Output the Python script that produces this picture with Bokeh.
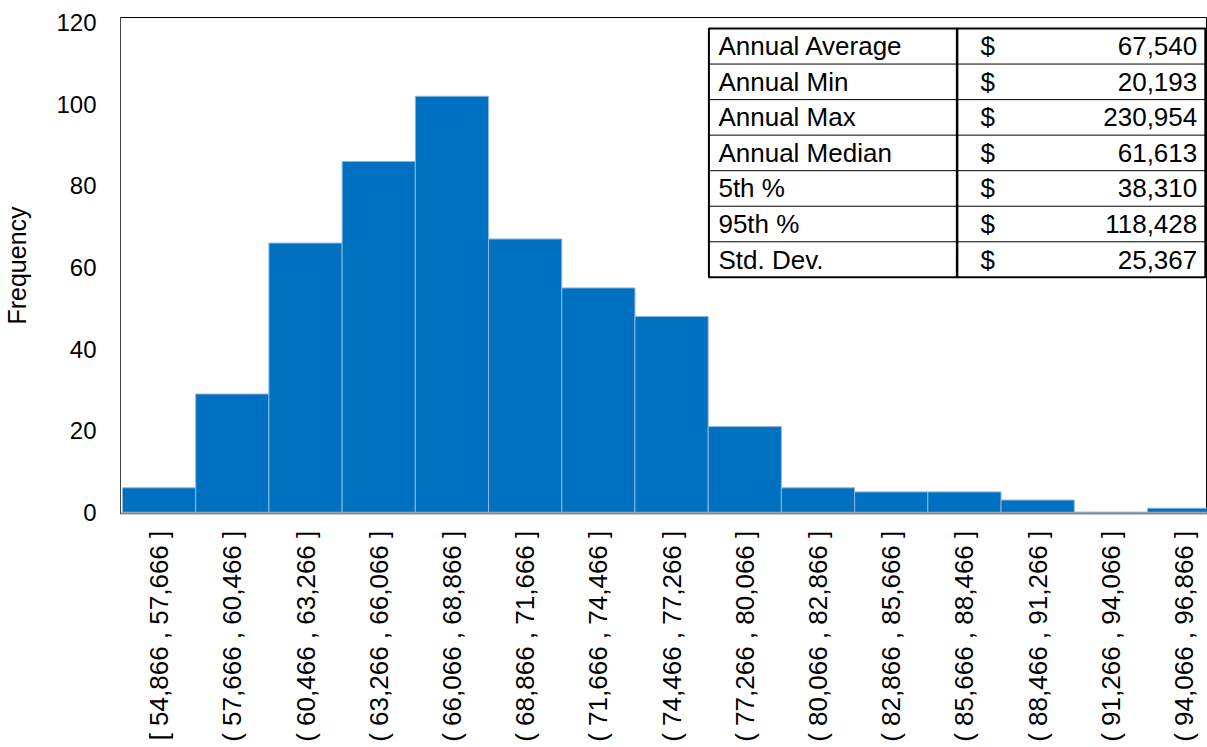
import math
from bokeh.plotting import figure
from bokeh.models import Range1d, FixedTicker, ColumnDataSource
from bokeh.core.properties import value
from bokeh.embed import file_html
from bokeh.resources import INLINE

# ---- data ----
bin_labels = [
    "[ 54,866 ,  57,666 ]", "( 57,666 ,  60,466 ]", "( 60,466 ,  63,266 ]",
    "( 63,266 ,  66,066 ]", "( 66,066 ,  68,866 ]", "( 68,866 ,  71,666 ]",
    "( 71,666 ,  74,466 ]", "( 74,466 ,  77,266 ]", "( 77,266 ,  80,066 ]",
    "( 80,066 ,  82,866 ]", "( 82,866 ,  85,666 ]", "( 85,666 ,  88,466 ]",
    "( 88,466 ,  91,266 ]", "( 91,266 ,  94,066 ]", "( 94,066 ,  96,866 ]",
]
frequencies = [6, 29, 66, 86, 102, 67, 55, 48, 21, 6, 5, 5, 3, 0, 1]

stat_names = ["Annual Average", "Annual Min", "Annual Max", "Annual Median",
              "5th %", "95th %", "Std. Dev."]
stat_currency = ["$"] * 7
stat_values = ["67,540", "20,193", "230,954", "61,613", "38,310", "118,428", "25,367"]

FONT = "Liberation Sans"

n = len(frequencies)
centers = [i + 0.5 for i in range(n)]

p = figure(width=1207, height=747, output_backend="svg", toolbar_location=None,
           x_range=Range1d(-0.027, 14.82), y_range=Range1d(-0.3, 121.3),
           min_border_left=119, min_border_right=0, min_border_top=17,
           min_border_bottom=234)

p.vbar(x=centers, top=frequencies, width=1.0, bottom=0,
       fill_color="#0070C0", line_color="#8DB8E2", line_width=1)

# ---- axes ----
p.xgrid.visible = False
p.ygrid.visible = False
p.outline_line_color = "black"
p.outline_line_width = 1

p.xaxis.ticker = FixedTicker(ticks=centers)
p.xaxis.major_label_overrides = {c: lab for c, lab in zip(centers, bin_labels)}
p.xaxis.major_label_orientation = math.pi / 2
p.xaxis.major_label_text_font = FONT
p.xaxis.major_label_text_font_size = "26px"
p.xaxis.major_label_text_color = "black"
p.xaxis.major_tick_line_color = None
p.xaxis.minor_tick_line_color = None
p.xaxis.major_label_standoff = 4
p.xaxis.axis_line_color = "#8a8a8a"
p.xaxis.axis_line_width = 2

p.yaxis.ticker = FixedTicker(ticks=[0, 20, 40, 60, 80, 100, 120])
p.yaxis.major_label_text_font = FONT
p.yaxis.major_label_text_font_size = "24px"
p.yaxis.major_label_text_color = "black"
p.yaxis.major_tick_line_color = None
p.yaxis.minor_tick_line_color = None
p.yaxis.major_label_standoff = 18
p.yaxis.axis_line_color = "#444444"
p.yaxis.axis_label = "Frequency"
p.yaxis.axis_label_text_font = FONT
p.yaxis.axis_label_text_font_size = "25px"
p.yaxis.axis_label_text_font_style = "normal"
p.yaxis.axis_label_text_color = "black"
p.yaxis.axis_label_standoff = 22

# ---- statistics table (data-space layout) ----
t_left, t_sep, t_right = 8.01, 11.40, 14.79
t_top, t_bottom = 118.6, 57.6
rows = len(stat_names)
rh = (t_top - t_bottom) / rows

p.quad(left=[t_left], right=[t_right], top=[t_top], bottom=[t_bottom],
       fill_color="white", line_color="black", line_width=2)
p.segment(x0=[t_left] * (rows - 1), x1=[t_right] * (rows - 1),
          y0=[t_top - rh * (i + 1) for i in range(rows - 1)],
          y1=[t_top - rh * (i + 1) for i in range(rows - 1)],
          line_color="black", line_width=1)
p.segment(x0=[t_sep], x1=[t_sep], y0=[t_top], y1=[t_bottom],
          line_color="black", line_width=2.5)

ys = [t_top - rh * (i + 0.5) for i in range(rows)]
src = ColumnDataSource(dict(y=ys, name=stat_names, cur=stat_currency, val=stat_values,
                            xn=[8.14] * rows, xc=[11.72] * rows, xv=[14.68] * rows))
common = dict(text_font=value(FONT), text_font_size="26px", text_color="black",
              text_baseline="middle", source=src)
p.text(x="xn", y="y", text="name", text_align="left", **common)
p.text(x="xc", y="y", text="cur", text_align="left", **common)
p.text(x="xv", y="y", text="val", text_align="right", **common)

open("out.html", "w").write(file_html(p, INLINE))
